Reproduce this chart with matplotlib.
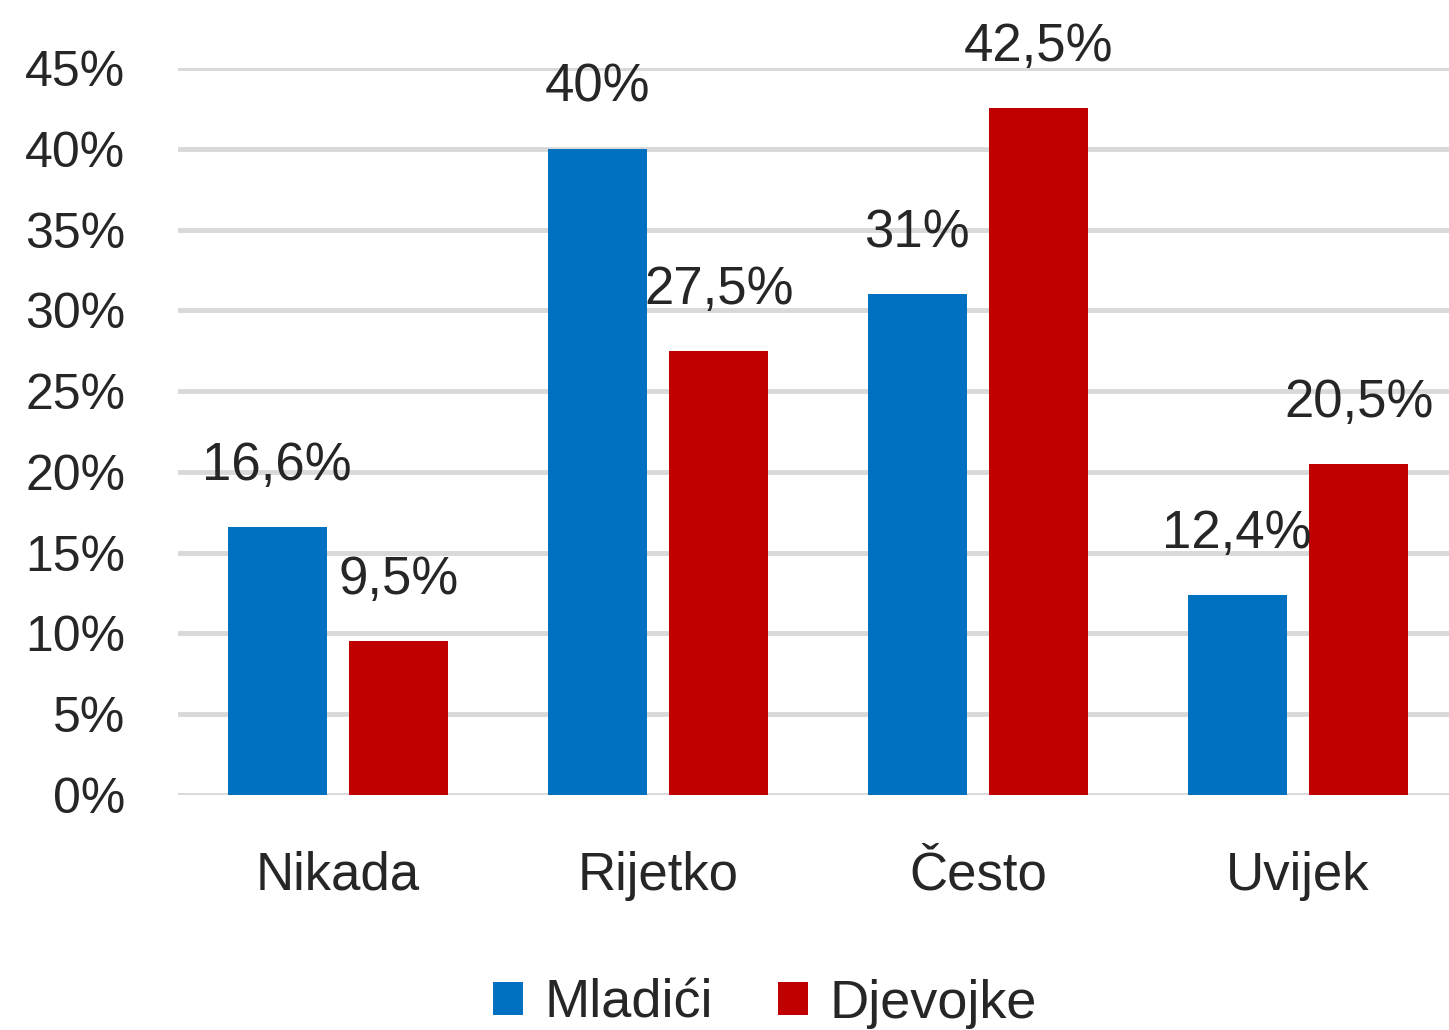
import numpy as np
import matplotlib.pyplot as plt

categories = ['Nikada', 'Rijetko', 'Često', 'Uvijek']
mladici = [16.6, 40.0, 31.0, 12.4]
djevojke = [9.5, 27.5, 42.5, 20.5]
mladici_labels = ['16,6%', '40%', '31%', '12,4%']
djevojke_labels = ['9,5%', '27,5%', '42,5%', '20,5%']
yticks = [0, 5, 10, 15, 20, 25, 30, 35, 40, 45]

blue = '#0070C0'
red = '#C00000'

plt.rcParams['font.family'] = ['Liberation Sans', 'DejaVu Sans']

fig = plt.figure(figsize=(14.49, 10.30), dpi=100)
ax = fig.add_axes([178 / 1449, 0.2282, 1280 / 1449, 0.7058])

x = np.arange(len(categories))
w = 0.31
off = 0.19
b1 = ax.bar(x - off, mladici, w, color=blue, label='Mladići', zorder=3)
b2 = ax.bar(x + off, djevojke, w, color=red, label='Djevojke', zorder=3)

for bars, labels in [(b1, mladici_labels), (b2, djevojke_labels)]:
    for bar, lab in zip(bars, labels):
        ax.annotate(lab, (bar.get_x() + bar.get_width() / 2, bar.get_height()),
                    xytext=(0, 44), textcoords='offset points',
                    ha='center', va='center', fontsize=38, color='#262626',
                    annotation_clip=False)

ax.set_xlim(-0.5, 3.5)
ax.set_ylim(0, 45)
ax.set_yticks(yticks)
ax.set_yticklabels([f'{t}%' for t in yticks])
ax.set_xticks(x)
ax.set_xticklabels(categories)
ax.tick_params(axis='y', length=0, pad=38, labelsize=36, labelcolor='#262626')
ax.tick_params(axis='x', length=0, pad=40, labelsize=38, labelcolor='#262626')
ax.grid(axis='y', color='#D9D9D9', linewidth=3.5, zorder=0)
for s in ax.spines.values():
    s.set_visible(False)

fig.legend(loc='lower center', bbox_to_anchor=(0.528, -0.046), ncol=2,
           frameon=False, fontsize=39, handlelength=0.55, handleheight=0.55,
           handletextpad=0.4, columnspacing=1.2, labelcolor='#262626')

fig.savefig('out.png', dpi=100)
